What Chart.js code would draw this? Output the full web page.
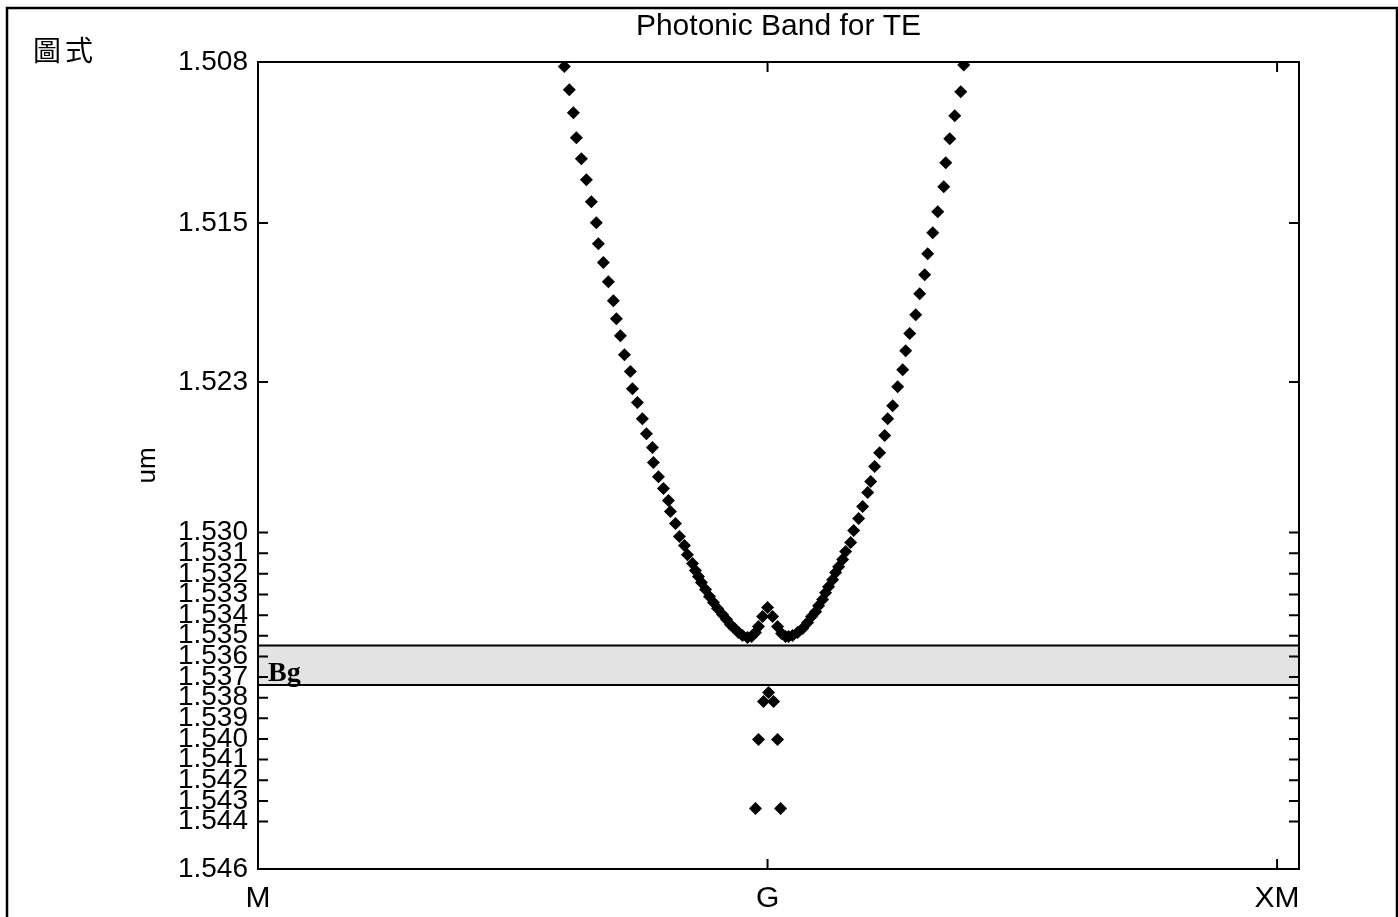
<!DOCTYPE html>
<html>
<head>
<meta charset="utf-8">
<title>Photonic Band for TE</title>
<script src="https://cdn.jsdelivr.net/npm/chart.js@4.4.1/dist/chart.umd.min.js"></script>
<style>
  html, body { margin: 0; padding: 0; background: #fff; overflow: hidden; }
  #wrap { position: relative; width: 1398px; height: 917px; }
</style>
</head>
<body>
<div id="wrap"><canvas id="band"></canvas></div>
<script>
// band branch: wave vector position (M=0, G=1, XM=2) and wavelength in um
const bandK = [
  0.6012, 0.6110, 0.6189, 0.6248, 0.6346, 0.6444, 0.6542, 0.6640, 0.6680, 0.6778,
  0.6876, 0.6974, 0.7033, 0.7112, 0.7191, 0.7308, 0.7348, 0.7446, 0.7544, 0.7623,
  0.7741, 0.7760, 0.7859, 0.7957, 0.8055, 0.8094, 0.8193, 0.8271, 0.8369, 0.8428,
  0.8527, 0.8585, 0.8644, 0.8703, 0.8782, 0.8861, 0.8939, 0.9018, 0.9116, 0.9194,
  0.9273, 0.9352, 0.9430, 0.9509, 0.9607, 0.9686, 0.9764, 0.9823, 0.9902, 1.0000,
  1.0098, 1.0196, 1.0275, 1.0354, 1.0413, 1.0491, 1.0589, 1.0688, 1.0786, 1.0864,
  1.0943, 1.1002, 1.1081, 1.1139, 1.1198, 1.1277, 1.1336, 1.1395, 1.1473, 1.1532,
  1.1631, 1.1690, 1.1788, 1.1866, 1.1965, 1.2024, 1.2102, 1.2200, 1.2299, 1.2358,
  1.2456, 1.2554, 1.2652, 1.2711, 1.2790, 1.2908, 1.2986, 1.3084, 1.3143, 1.3242,
  1.3340, 1.3458, 1.3497, 1.3576, 1.3674, 1.3792, 1.3851
];
const bandLambda = [
  1.50742, 1.50855, 1.50966, 1.51087, 1.51189, 1.51291, 1.51397, 1.51499, 1.51600, 1.51692,
  1.51785, 1.51877, 1.51964, 1.52046, 1.52138, 1.52220, 1.52303, 1.52370, 1.52448, 1.52521,
  1.52588, 1.52661, 1.52729, 1.52787, 1.52845, 1.52898, 1.52956, 1.53019, 1.53063, 1.53107,
  1.53150, 1.53184, 1.53213, 1.53242, 1.53276, 1.53310, 1.53339, 1.53368, 1.53397, 1.53421,
  1.53446, 1.53465, 1.53484, 1.53499, 1.53508, 1.53504, 1.53484, 1.53455, 1.53407, 1.53363,
  1.53407, 1.53455, 1.53489, 1.53504, 1.53504, 1.53499, 1.53484, 1.53465, 1.53436, 1.53407,
  1.53383, 1.53354, 1.53324, 1.53291, 1.53262, 1.53228, 1.53194, 1.53165, 1.53131, 1.53092,
  1.53048, 1.52990, 1.52932, 1.52874, 1.52806, 1.52753, 1.52680, 1.52613, 1.52530, 1.52448,
  1.52385, 1.52293, 1.52211, 1.52119, 1.52036, 1.51944, 1.51843, 1.51751, 1.51649, 1.51547,
  1.51446, 1.51324, 1.51208, 1.51092, 1.50981, 1.50864, 1.50734
];

// points below the gap
const defectK = [1.0020, 0.9921, 1.0118, 0.9823, 1.0196, 0.9764, 1.0255];
const defectLambda = [1.53775, 1.53818, 1.53818, 1.54002, 1.54002, 1.54337, 1.54337];

// band gap edges (um)
const gapTop = 1.53547;
const gapBottom = 1.53739;

const xTickValues = [0, 1, 2];
const xTickLabels = ['M', 'G', 'XM'];
const yTickValues = [1.5072, 1.515, 1.5227, 1.530, 1.531, 1.532, 1.533, 1.534, 1.535, 1.536,
  1.537, 1.538, 1.539, 1.540, 1.541, 1.542, 1.543, 1.544, 1.5463];
const yTickLabels = ['1.508', '1.515', '1.523', '1.530', '1.531', '1.532', '1.533', '1.534', '1.535', '1.536',
  '1.537', '1.538', '1.539', '1.540', '1.541', '1.542', '1.543', '1.544', '1.546'];

const xMin = 0, xMax = 2.043;
const yMin = 1.5072, yMax = 1.5463;

Chart.defaults.font.family = '"Liberation Sans", Arial, sans-serif';
Chart.defaults.color = '#000';

const toPoints = (xs, ys) => xs.map((x, i) => ({ x: x, y: ys[i] }));

// grey band gap strip with its two edge lines
const gapPlugin = {
  id: 'gap',
  beforeDatasetsDraw(chart) {
    const { ctx, chartArea, scales } = chart;
    const yT = scales.y.getPixelForValue(gapTop);
    const yB = scales.y.getPixelForValue(gapBottom);
    ctx.save();
    ctx.fillStyle = '#e3e3e3';
    ctx.fillRect(chartArea.left, yT, chartArea.right - chartArea.left, yB - yT);
    ctx.strokeStyle = '#000';
    ctx.lineWidth = 2;
    ctx.beginPath();
    ctx.moveTo(chartArea.left, yT);
    ctx.lineTo(chartArea.right, yT);
    ctx.moveTo(chartArea.left, yB);
    ctx.lineTo(chartArea.right, yB);
    ctx.stroke();
    ctx.fillStyle = '#000';
    ctx.font = 'bold 28px "Liberation Serif", serif';
    ctx.textBaseline = 'alphabetic';
    ctx.fillText('Bg', chartArea.left + 10, yB - 4);
    ctx.restore();
  }
};

// title, axes box with inward ticks, outer frame and corner caption
const framePlugin = {
  id: 'frame',
  afterDraw(chart) {
    const { ctx, chartArea, scales } = chart;
    const { left, right, top, bottom } = chartArea;
    ctx.save();
    ctx.strokeStyle = '#000';
    ctx.lineWidth = 2;
    ctx.strokeRect(left, top, right - left, bottom - top);
    ctx.beginPath();
    yTickValues.slice(1, -1).forEach(v => {
      const y = scales.y.getPixelForValue(v);
      ctx.moveTo(left, y); ctx.lineTo(left + 10, y);
      ctx.moveTo(right, y); ctx.lineTo(right - 10, y);
    });
    xTickValues.slice(1).forEach(v => {
      const x = scales.x.getPixelForValue(v);
      ctx.moveTo(x, bottom); ctx.lineTo(x, bottom - 10);
      ctx.moveTo(x, top); ctx.lineTo(x, top + 10);
    });
    ctx.stroke();
    ctx.lineWidth = 2.5;
    ctx.strokeRect(7, 8, 1390, 1000);

    ctx.fillStyle = '#000';
    ctx.textBaseline = 'middle';
    ctx.textAlign = 'center';
    ctx.font = '30px "Liberation Sans", Arial, sans-serif';
    ctx.fillText('Photonic Band for TE', (left + right) / 2, 27);

    ctx.textAlign = 'left';
    ctx.font = '28px "Noto Sans CJK TC", sans-serif';
    ctx.letterSpacing = '4px';
    ctx.fillText('圖式', 33, 50);
    ctx.restore();
  }
};

new Chart(document.getElementById('band'), {
  type: 'scatter',
  data: {
    datasets: [
      {
        data: toPoints(bandK, bandLambda),
        pointStyle: 'rectRot',
        pointRadius: 6.5,
        backgroundColor: '#000',
        borderColor: '#000',
        borderWidth: 0
      },
      {
        data: toPoints(defectK, defectLambda),
        pointStyle: 'rectRot',
        pointRadius: 6.5,
        backgroundColor: '#000',
        borderColor: '#000',
        borderWidth: 0
      }
    ]
  },
  options: {
    responsive: true,
    maintainAspectRatio: false,
    animation: false,
    events: [],
    layout: { padding: { left: 128, right: 99, top: 62, bottom: 0 } },
    plugins: {
      legend: { display: false },
      tooltip: { enabled: false },
      title: { display: false }
    },
    scales: {
      x: {
        type: 'linear',
        min: xMin,
        max: xMax,
        grid: { display: false, drawTicks: false },
        border: { display: false },
        afterBuildTicks: s => { s.ticks = xTickValues.map(v => ({ value: v })); },
        afterFit: s => { s.height = 48; },
        ticks: {
          autoSkip: false,
          maxRotation: 0,
          padding: 12,
          font: { size: 30 },
          color: '#000',
          callback: (v) => xTickLabels[xTickValues.indexOf(v)]
        }
      },
      y: {
        type: 'linear',
        min: yMin,
        max: yMax,
        reverse: true,
        grid: { display: false, drawTicks: false },
        border: { display: false },
        afterBuildTicks: s => { s.ticks = yTickValues.map(v => ({ value: v })); },
        afterFit: s => { s.width = 130; },
        title: {
          display: true,
          text: 'um',
          font: { size: 26 },
          color: '#000',
          padding: 4
        },
        ticks: {
          autoSkip: false,
          padding: 10,
          font: { size: 28 },
          color: '#000',
          callback: (v) => yTickLabels[yTickValues.indexOf(v)]
        }
      }
    }
  },
  plugins: [gapPlugin, framePlugin]
});
</script>
</body>
</html>
